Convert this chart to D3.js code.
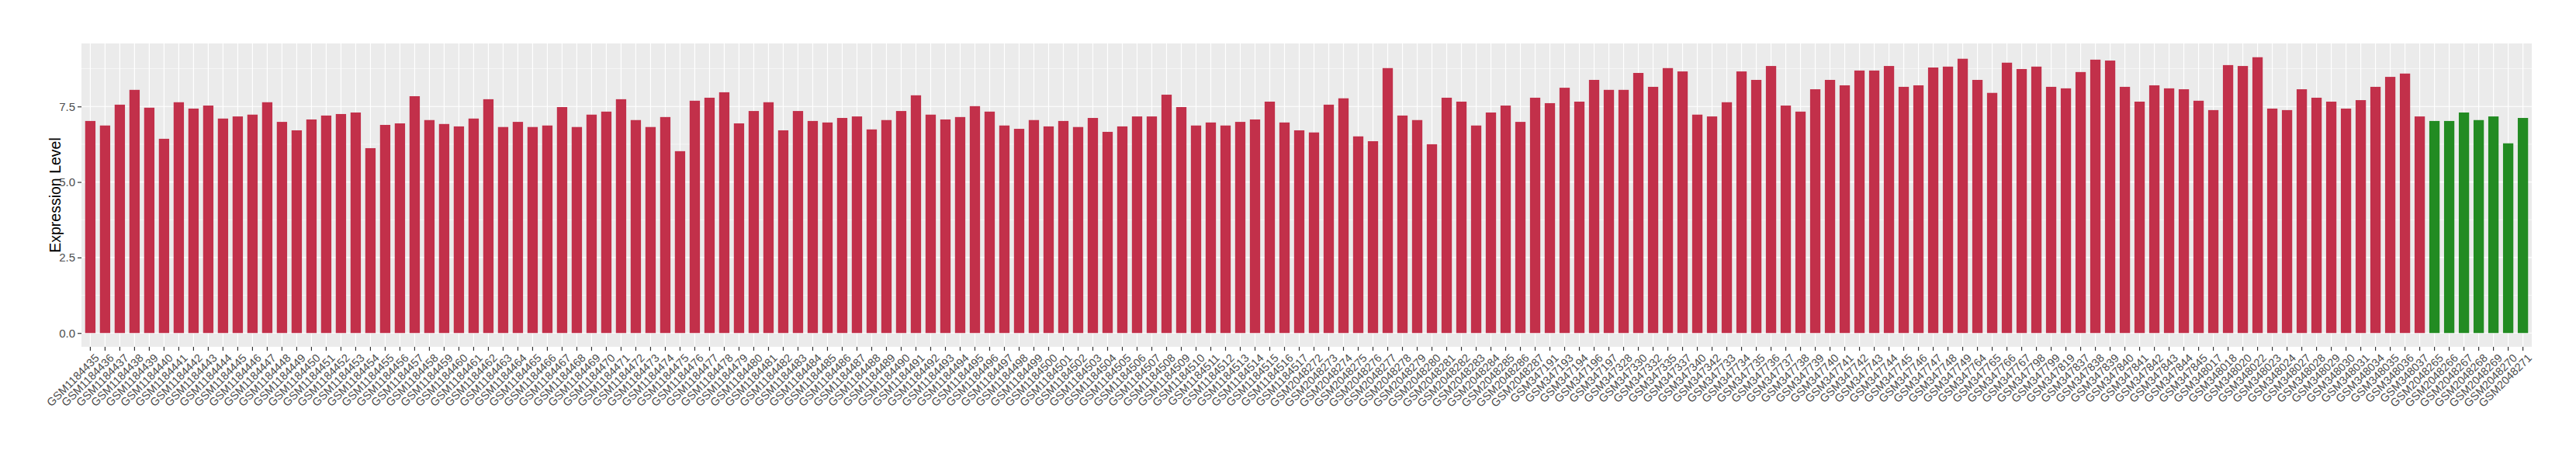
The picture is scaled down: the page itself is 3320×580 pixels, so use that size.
<!DOCTYPE html>
<html>
<head>
<meta charset="utf-8">
<script src="https://cdn.jsdelivr.net/npm/d3@7"></script>
<style>
  html, body { margin: 0; padding: 0; background: #ffffff; }
  svg { display: block; font-family: "Liberation Sans", Arial, Helvetica, sans-serif; }
</style>
</head>
<body>
<svg id="chart" width="3320" height="580"></svg>
<script>
// ---- Data ----
const categoriesRed = [
  "GSM1184435","GSM1184436","GSM1184437","GSM1184438","GSM1184439","GSM1184440","GSM1184441","GSM1184442","GSM1184443","GSM1184444",
  "GSM1184445","GSM1184446","GSM1184447","GSM1184448","GSM1184449","GSM1184450","GSM1184451","GSM1184452","GSM1184453","GSM1184454",
  "GSM1184455","GSM1184456","GSM1184457","GSM1184458","GSM1184459","GSM1184460","GSM1184461","GSM1184462","GSM1184463","GSM1184464",
  "GSM1184465","GSM1184466","GSM1184467","GSM1184468","GSM1184469","GSM1184470","GSM1184471","GSM1184472","GSM1184473","GSM1184474",
  "GSM1184475","GSM1184476","GSM1184477","GSM1184478","GSM1184479","GSM1184480","GSM1184481","GSM1184482","GSM1184483","GSM1184484",
  "GSM1184485","GSM1184486","GSM1184487","GSM1184488","GSM1184489","GSM1184490","GSM1184491","GSM1184492","GSM1184493","GSM1184494",
  "GSM1184495","GSM1184496","GSM1184497","GSM1184498","GSM1184499","GSM1184500","GSM1184501","GSM1184502","GSM1184503","GSM1184504",
  "GSM1184505","GSM1184506","GSM1184507","GSM1184508","GSM1184509","GSM1184510","GSM1184511","GSM1184512","GSM1184513","GSM1184514",
  "GSM1184515","GSM1184516","GSM1184517",
  "GSM2048272","GSM2048273","GSM2048274","GSM2048275","GSM2048276","GSM2048277","GSM2048278","GSM2048279","GSM2048280","GSM2048281",
  "GSM2048282","GSM2048283","GSM2048284","GSM2048285","GSM2048286","GSM2048287",
  "GSM347191","GSM347193","GSM347194","GSM347196","GSM347197","GSM347328","GSM347330","GSM347332","GSM347335","GSM347337",
  "GSM347340","GSM347342","GSM347733","GSM347734","GSM347735","GSM347736","GSM347737","GSM347738","GSM347739","GSM347740",
  "GSM347741","GSM347742","GSM347743","GSM347744","GSM347745","GSM347746","GSM347747","GSM347748","GSM347749","GSM347764",
  "GSM347765","GSM347766","GSM347767","GSM347798","GSM347799","GSM347819","GSM347837","GSM347838","GSM347839","GSM347840",
  "GSM347841","GSM347842","GSM347843","GSM347844","GSM347845","GSM348017","GSM348018","GSM348020","GSM348022","GSM348023",
  "GSM348024","GSM348027","GSM348028","GSM348029","GSM348030","GSM348031","GSM348034","GSM348035","GSM348036","GSM348037"
];
const valuesRed = [
  7.02, 6.87, 7.56, 8.05, 7.46, 6.43, 7.64, 7.43, 7.53, 7.10,
  7.17, 7.23, 7.64, 6.99, 6.71, 7.07, 7.20, 7.25, 7.30, 6.12,
  6.89, 6.94, 7.84, 7.05, 6.92, 6.84, 7.10, 7.74, 6.82, 6.99,
  6.82, 6.87, 7.48, 6.82, 7.23, 7.33, 7.74, 7.05, 6.82, 7.15,
  6.02, 7.69, 7.79, 7.97, 6.94, 7.35, 7.64, 6.71, 7.35, 7.02,
  6.97, 7.12, 7.17, 6.74, 7.05, 7.35, 7.87, 7.23, 7.07, 7.15,
  7.51, 7.33, 6.87, 6.76, 7.05, 6.84, 7.02, 6.82, 7.12, 6.66,
  6.84, 7.17, 7.17, 7.89, 7.48, 6.87, 6.97, 6.87, 6.99, 7.07,
  7.66, 6.97, 6.71,
  6.64, 7.56, 7.77, 6.51, 6.35, 8.77, 7.20, 7.05, 6.25, 7.79,
  7.66, 6.87, 7.30, 7.53, 6.99, 7.79,
  7.61, 8.12, 7.66, 8.38, 8.05, 8.05, 8.61, 8.15, 8.77, 8.66,
  7.23, 7.17, 7.64, 8.66, 8.38, 8.84, 7.53, 7.33, 8.07, 8.38,
  8.20, 8.69, 8.69, 8.84, 8.15, 8.20, 8.79, 8.82, 9.08, 8.38,
  7.95, 8.95, 8.74, 8.82, 8.15, 8.10, 8.64, 9.05, 9.02, 8.15,
  7.66, 8.20, 8.10, 8.07, 7.69, 7.38, 8.87, 8.84, 9.13, 7.43,
  7.38, 8.07, 7.79, 7.66, 7.43, 7.71, 8.15, 8.48, 8.59, 7.17
];
const categoriesGreen = ["GSM2048265","GSM2048266","GSM2048267","GSM2048268","GSM2048269","GSM2048270","GSM2048271"];
const valuesGreen = [7.02, 7.02, 7.30, 7.05, 7.17, 6.28, 7.12];

const yMajorTicks = [0, 2.5, 5, 7.5];
const yMinorTicks = [1.25, 3.75, 6.25, 8.75];
const yTitle = "Expression Level";

// ---- Build rows ----
const rows = categoriesRed.map((c, i) => ({ name: c, value: valuesRed[i], color: "#C2304A" }))
  .concat(categoriesGreen.map((c, i) => ({ name: c, value: valuesGreen[i], color: "#228B22" })));

// ---- Layout ----
const panel = { left: 105, right: 3263, top: 56, bottom: 447 };
const svg = d3.select("#chart");

const x = d3.scaleBand()
  .domain(rows.map(d => d.name))
  .range([panel.left, panel.right])
  .paddingInner(0.3)
  .paddingOuter(0.25);

const maxV = d3.max(rows, d => d.value);
const y = d3.scaleLinear()
  .domain([-0.05 * maxV, 1.05 * maxV])
  .range([panel.bottom, panel.top]);

// Panel background
svg.append("rect")
  .attr("x", panel.left).attr("y", panel.top)
  .attr("width", panel.right - panel.left).attr("height", panel.bottom - panel.top)
  .attr("fill", "#EBEBEB");

// Minor horizontal grid
svg.append("g").selectAll("line").data(yMinorTicks).join("line")
  .attr("x1", panel.left).attr("x2", panel.right)
  .attr("y1", d => y(d)).attr("y2", d => y(d))
  .attr("stroke", "#ffffff").attr("stroke-width", 0.6);

// Major horizontal grid
svg.append("g").selectAll("line").data(yMajorTicks).join("line")
  .attr("x1", panel.left).attr("x2", panel.right)
  .attr("y1", d => y(d)).attr("y2", d => y(d))
  .attr("stroke", "#ffffff").attr("stroke-width", 1.2);

// Vertical grid at each category
svg.append("g").selectAll("line").data(rows).join("line")
  .attr("x1", d => x(d.name) + x.bandwidth() / 2).attr("x2", d => x(d.name) + x.bandwidth() / 2)
  .attr("y1", panel.top).attr("y2", panel.bottom)
  .attr("stroke", "#ffffff").attr("stroke-width", 1.2);

// Bars
svg.append("g").selectAll("rect").data(rows).join("rect")
  .attr("x", d => x(d.name))
  .attr("width", x.bandwidth())
  .attr("y", d => y(d.value))
  .attr("height", d => y(0) - y(d.value))
  .attr("fill", d => d.color);

// Y axis
const yAxis = svg.append("g")
  .attr("transform", `translate(${panel.left},0)`)
  .call(d3.axisLeft(y).tickValues(yMajorTicks).tickFormat(d3.format(".1f")).tickSize(5).tickPadding(3));
yAxis.select(".domain").remove();
yAxis.selectAll(".tick line").attr("stroke", "#333333").attr("stroke-width", 1.2);
yAxis.selectAll(".tick text").attr("fill", "#4D4D4D").style("font-size", "15px")
  .style("font-family", "'Liberation Sans', Arial, sans-serif");

// X axis
const xAxis = svg.append("g")
  .attr("transform", `translate(0,${panel.bottom})`)
  .call(d3.axisBottom(x).tickSize(5).tickPadding(2));
xAxis.select(".domain").remove();
xAxis.selectAll(".tick line").attr("stroke", "#333333").attr("stroke-width", 1.2);
xAxis.selectAll(".tick text")
  .attr("fill", "#4D4D4D")
  .style("font-size", "14.5px")
  .style("font-family", "'Liberation Sans', Arial, sans-serif")
  .attr("text-anchor", "end")
  .attr("x", 0).attr("y", 0).attr("dy", "0.71em")
  .attr("transform", "translate(5,8) rotate(-45)");

// Y title
svg.append("text")
  .attr("transform", `translate(78,${(panel.top + panel.bottom) / 2}) rotate(-90)`)
  .attr("text-anchor", "middle")
  .attr("fill", "#000000")
  .style("font-size", "19.5px")
  .text(yTitle);
</script>
</body>
</html>
